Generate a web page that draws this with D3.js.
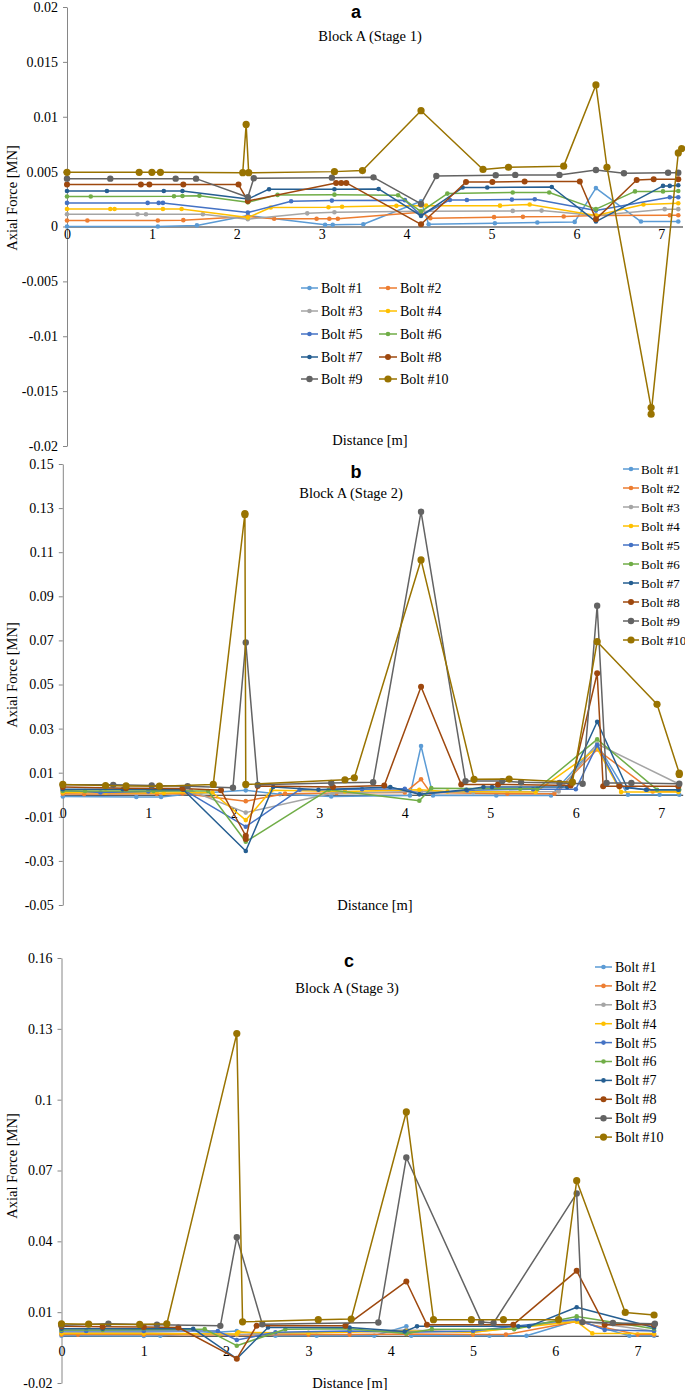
<!DOCTYPE html>
<html><head><meta charset="utf-8">
<script src="https://cdn.jsdelivr.net/npm/d3@7/dist/d3.min.js"></script>
<style>
body{margin:0;background:#fff;}
</style></head>
<body><svg id="c" width="685" height="1390"></svg>
<script>
const SERIF = "'Liberation Serif','Times New Roman',serif";
const SANS = "'Liberation Sans',Arial,sans-serif";
const bolts = ["Bolt #1","Bolt #2","Bolt #3","Bolt #4","Bolt #5","Bolt #6","Bolt #7","Bolt #8","Bolt #9","Bolt #10"];
const colors = ["#5B9BD5","#ED7D31","#A5A5A5","#FFC000","#4472C4","#70AD47","#255E91","#9E480E","#636363","#997300"];
const xTicks = [0,1,2,3,4,5,6,7];
const yTicksA = [0.02,0.015,0.01,0.005,0,-0.005,-0.01,-0.015,-0.02];
const yLabelsA = ["0.02","0.015","0.01","0.005","0","-0.005","-0.01","-0.015","-0.02"];
const yTicksB = [0.15,0.13,0.11,0.09,0.07,0.05,0.03,0.01,-0.01,-0.03,-0.05];
const yLabelsB = ["0.15","0.13","0.11","0.09","0.07","0.05","0.03","0.01","-0.01","-0.03","-0.05"];
const yTicksC = [0.16,0.13,0.1,0.07,0.04,0.01,-0.02];
const yLabelsC = ["0.16","0.13","0.1","0.07","0.04","0.01","-0.02"];

// Stage 1: [distance m, axial force MN] per bolt
const stage1 = [
 [[0,0],[1.07,0],[1.53,0.0001],[2.13,0.001],[3.04,0.00015],[3.13,0.00015],[3.49,0.0002],[4.17,0.0023],[4.26,0.0002],[5.04,0.0003],[5.54,0.00036],[5.98,0.00042],[6.23,0.0035],[6.76,0.00045],[7.2,0.00045]],
 [[0,0.00055],[0.24,0.00055],[1.07,0.00055],[1.37,0.00058],[2.13,0.0009],[2.44,0.0007],[2.94,0.0007],[3.09,0.0007],[3.19,0.0007],[4.17,0.0013],[4.28,0.00076],[5.03,0.00085],[5.37,0.00088],[5.85,0.00091],[6.23,0.001],[7.1,0.00103],[7.2,0.00103]],
 [[0,0.00112],[0.83,0.00112],[0.93,0.00112],[1.6,0.00112],[2.13,0.00067],[2.83,0.0012],[3.15,0.0013],[4.17,0.0014],[5.25,0.00142],[5.59,0.00145],[6.23,0.001],[7.04,0.00158],[7.2,0.00158]],
 [[0,0.0016],[0.51,0.0016],[0.56,0.0016],[1.13,0.0016],[1.35,0.0016],[2.13,0.00082],[2.4,0.00173],[3.08,0.00175],[3.24,0.0018],[3.88,0.00188],[4.17,0.0019],[4.23,0.0019],[5.1,0.0019],[5.45,0.002],[6.23,0.001],[6.79,0.002],[7.2,0.00212]],
 [[0,0.00215],[0.95,0.00215],[1.08,0.00215],[1.13,0.00215],[2.13,0.00127],[2.64,0.0023],[3.12,0.00236],[3.98,0.0024],[4.17,0.001],[4.51,0.00242],[4.71,0.00242],[5.24,0.00245],[5.51,0.00248],[6.23,0.00145],[7.1,0.00267],[7.2,0.00267]],
 [[0,0.00273],[0.28,0.00273],[1.26,0.00275],[1.36,0.00278],[1.56,0.0028],[2.13,0.0022],[2.48,0.00288],[3.15,0.0029],[3.9,0.00285],[4.17,0.00136],[4.48,0.003],[5.25,0.0031],[5.68,0.0031],[6.23,0.00158],[6.69,0.0032],[7.02,0.0032],[7.2,0.00324]],
 [[0,0.00324],[0.47,0.00324],[1.14,0.00324],[1.36,0.00324],[2.13,0.0025],[2.38,0.0034],[3.15,0.0034],[3.67,0.00342],[4.17,0.00097],[4.66,0.00355],[4.95,0.00355],[5.71,0.0036],[6.23,0.00045],[7.02,0.0037],[7.1,0.0037],[7.2,0.00376]],
 [[0,0.00382],[0.87,0.00382],[0.97,0.00382],[1.37,0.00382],[2.02,0.00382],[2.13,0.00233],[3.17,0.00397],[3.23,0.00397],[3.29,0.00397],[4.17,0.0002],[4.7,0.00406],[5.01,0.00406],[5.39,0.0041],[6.04,0.0041],[6.23,0.00067],[6.71,0.00424],[6.91,0.0043],[7.2,0.0043]],
 [[0,0.00436],[0.51,0.00436],[1.28,0.00436],[1.52,0.00436],[2.13,0.00266],[2.2,0.0044],[3.12,0.00445],[3.61,0.00448],[4.17,0.00206],[4.35,0.0046],[5.05,0.00467],[5.28,0.0047],[5.8,0.0047],[6.23,0.00515],[6.56,0.00485],[7.08,0.0049],[7.2,0.0049]],
 [[0,0.00494],[0.85,0.00494],[1.0,0.00494],[1.1,0.00494],[2.07,0.0049],[2.11,0.0093],[2.14,0.0049],[3.15,0.005],[3.48,0.0051],[4.17,0.01055],[4.9,0.0052],[5.2,0.0054],[5.85,0.0055],[6.23,0.0129],[6.36,0.0054],[6.88,-0.0165],[6.88,-0.0171],[7.2,0.0067],[7.24,0.0071]]
];

const stage2 = [
 [[0,-0.0008],[0.86,-0.001],[1.15,-0.001],[1.5,0.0005],[2.14,0.002],[2.54,0.0002],[3.14,-0.0008],[4.06,-0.0003],[4.19,0.0221],[4.33,-0.0003],[5.07,-0.0003],[5.71,-0.0003],[6.25,0.023],[6.61,0],[6.98,0],[7.21,0]],
 [[0,0.0005],[0.25,0.0003],[1.1,0.0004],[1.4,0.0006],[2.14,-0.0029],[2.6,0.0005],[3.2,0.0008],[4.0,0.001],[4.19,0.007],[4.3,0.001],[5.2,0.0005],[5.75,0.0005],[6.25,0.0205],[6.9,0.0015],[7.2,0.0015]],
 [[0,0.0015],[1.0,0.0015],[1.5,0.0018],[2.14,-0.0081],[3.16,0.0008],[4.19,0.0015],[4.8,0.0012],[5.8,0.0015],[6.25,0.023],[7.2,0.005]],
 [[0,0.001],[0.5,0.001],[1.18,0.0008],[1.75,0.001],[2.14,-0.0115],[2.44,0.002],[3.3,0.0015],[4.17,0.0023],[4.5,0.0015],[5.53,0.0012],[6.25,0.021],[6.53,0.0012],[7.2,0.0012]],
 [[0,0.002],[0.44,0.001],[1.0,0.0015],[1.41,0.0023],[2.14,-0.0145],[2.77,0.0023],[3.5,0.0025],[4.0,0.0027],[4.17,0.0002],[4.73,0.002],[5.5,0.0025],[6.0,0.0025],[6.25,0.0225],[6.5,0.004],[6.82,0.0023],[7.2,0.0023]],
 [[0,0.0017],[0.26,0.0017],[1.06,0.0017],[1.7,0.0017],[2.14,-0.0213],[3.11,0.0023],[4.17,-0.0027],[4.31,0.003],[5.35,0.0027],[5.55,0.0027],[6.25,0.0251],[6.95,0.0023],[7.21,0.0023]],
 [[0,0.0025],[0.7,0.0025],[1.41,0.0023],[2.14,-0.0255],[2.46,0.0035],[2.99,0.0023],[3.83,0.0035],[4.17,0.0002],[4.72,0.0023],[4.92,0.0035],[5.02,0.0035],[5.9,0.0035],[6.25,0.0331],[6.6,0.0032],[6.83,0.0023],[7.2,0.0023]],
 [[0,0.0035],[0.74,0.003],[1.4,0.0028],[1.85,0.002],[2.14,-0.0186],[2.14,-0.0201],[2.28,0.004],[3.16,0.0035],[3.76,0.0042],[4.19,0.049],[4.66,0.0047],[5.09,0.0047],[5.94,0.0042],[6.25,0.0551],[6.32,0.0039],[6.51,0.0039],[7.2,0.0039]],
 [[0,0.0045],[0.59,0.0045],[1.04,0.0042],[1.46,0.0039],[1.99,0.0032],[2.14,0.0691],[2.28,0.0045],[3.14,0.0053],[3.63,0.0057],[4.19,0.1284],[4.71,0.0062],[5.14,0.0062],[5.36,0.0057],[5.81,0.0053],[6.08,0.005],[6.25,0.0857],[6.36,0.0053],[6.65,0.0053],[7.21,0.005]],
 [[0,0.0047],[0.5,0.0042],[0.74,0.004],[1.13,0.0039],[1.76,0.0047],[2.13,0.1275],[2.13,0.127],[2.14,0.0047],[3.3,0.0068],[3.41,0.0077],[4.19,0.1065],[4.81,0.007],[5.22,0.0071],[5.96,0.0057],[6.25,0.0694],[6.95,0.041],[7.21,0.0098],[7.21,0.0092]]
];

const stage3 = [
 [[0,0],[1.0,-0.0001],[1.2,0],[2.13,0.002],[2.6,0],[3.1,0],[3.8,0],[4.19,0.004],[4.25,0],[5.2,0],[5.65,0],[6.26,0.0065],[6.9,0],[7.2,0]],
 [[0,0.0005],[0.2,0.0005],[1.0,0.0005],[2.13,0.0003],[3.0,0.0005],[3.5,0.0005],[4.19,0.0008],[5.0,0.0005],[5.4,0.0005],[6.26,0.006],[7.0,0.0005],[7.2,0.0005]],
 [[0,0.0013],[1.0,0.0013],[2.13,0.0005],[3.0,0.0013],[4.19,0.0025],[5.0,0.0015],[6.26,0.0065],[7.2,0.002]],
 [[0,0.001],[1.0,0.001],[2.13,0.0008],[2.15,0.0015],[3.0,0.0012],[4.19,0.002],[5.0,0.0015],[6.26,0.006],[6.45,0.001],[7.2,0.001]],
 [[0,0.002],[0.3,0.002],[1.0,0.002],[1.9,0.002],[2.13,-0.0018],[2.6,0.0015],[3.5,0.002],[4.19,0.0015],[5.0,0.002],[6.26,0.007],[6.6,0.0025],[7.2,0.002]],
 [[0,0.0025],[0.5,0.0025],[1.74,0.0028],[2.13,-0.0042],[2.72,0.0028],[3.5,0.003],[4.19,0.001],[4.5,0.0028],[5.5,0.0028],[6.26,0.0082],[7.2,0.003]],
 [[0,0.003],[0.5,0.003],[1.6,0.003],[2.13,-0.0097],[2.51,0.0035],[3.5,0.0035],[4.17,0.0018],[4.32,0.004],[5.55,0.004],[5.68,0.004],[6.26,0.0121],[7.2,0.0035]],
 [[0,0.004],[0.5,0.0038],[1.0,0.0037],[1.42,0.0035],[2.13,-0.0097],[2.37,0.0042],[3.45,0.0042],[4.19,0.023],[4.44,0.0047],[5.49,0.0047],[6.26,0.0275],[6.6,0.0047],[7.2,0.0047]],
 [[0,0.0045],[0.57,0.0051],[1.16,0.0047],[1.93,0.0042],[2.13,0.0417],[2.44,0.0049],[3.85,0.0056],[4.19,0.0755],[5.1,0.0058],[5.25,0.0054],[6.26,0.0603],[6.33,0.0058],[6.7,0.0054],[7.21,0.0051]],
 [[0,0.0051],[0.33,0.0049],[0.95,0.0048],[1.28,0.0051],[2.13,0.128],[2.2,0.0059],[3.12,0.0068],[3.52,0.0071],[4.19,0.0948],[4.52,0.0068],[4.98,0.0068],[5.37,0.0068],[6.04,0.0068],[6.26,0.0657],[6.85,0.0099],[7.2,0.0088]]
];

const markerR = [2.3,2.3,2.3,2.3,2.3,2.3,2.3,3,3.2,3.6];

const panels = [
 {data:stage1, letter:"a", title:"Block A (Stage 1)", yDom:[-0.02,0.02], yRange:[446,7], xRange:[67,67+7.25*84.9], yTicks:yTicksA, yLabels:yLabelsA,
  letterPos:[356,18], titlePos:[370,41], distPos:[370,445], ylabPos:[12,198], xPad:3, legend:"two", lfs:14},
 {data:stage2, letter:"b", title:"Block A (Stage 2)", yDom:[-0.05,0.15], yRange:[905,464], xRange:[62.8,62.8+7.25*85.5], yTicks:yTicksB, yLabels:yLabelsB,
  letterPos:[356,478], titlePos:[351,498], distPos:[375,910], ylabPos:[12,675], xPad:13, legend:{x1:623,x2:639,tx:641,y0:469,dy:19}, lfs:13},
 {data:stage3, letter:"c", title:"Block A (Stage 3)", yDom:[-0.02,0.16], yRange:[1383,958], xRange:[61.5,61.5+7.25*82.3], yTicks:yTicksC, yLabels:yLabelsC,
  letterPos:[349,967], titlePos:[347,993], distPos:[350,1388], ylabPos:[12,1166], xPad:10, legend:{x1:595,x2:612,tx:615,y0:967,dy:18.9}, lfs:14}
];

const svg = d3.select("#c");

panels.forEach(p => {
  const g = svg.append("g");
  const x = d3.scaleLinear().domain([0,7.25]).range(p.xRange);
  const y = d3.scaleLinear().domain(p.yDom).range(p.yRange);

  // y axis
  const ya = g.append("g").attr("transform",`translate(${p.xRange[0]},0)`)
    .call(d3.axisLeft(y).tickValues(p.yTicks).tickSize(4).tickSizeOuter(0).tickPadding(5)
      .tickFormat((d,i)=>p.yLabels[i]));
  ya.select(".domain").attr("stroke","#868686");
  ya.selectAll(".tick line").attr("stroke","#868686");
  ya.selectAll("text").style("font-size","14px").style("font-family",SERIF).attr("fill","#000");

  // x axis at zero
  const xa = g.append("g").attr("transform",`translate(0,${y(0)})`)
    .call(d3.axisBottom(x).tickValues(xTicks).tickSize(0).tickSizeOuter(0).tickPadding(p.xPad).tickFormat(d3.format("d")));
  xa.select(".domain").attr("stroke","#262626").attr("stroke-width",1.1);
  xa.selectAll("text").style("font-size","14px").style("font-family",SERIF).attr("fill","#000");

  // series
  const line = d3.line().x(d=>x(d[0])).y(d=>y(d[1]));
  p.data.forEach((s,i)=>{
    g.append("path").datum(s).attr("d",line).attr("fill","none")
      .attr("stroke",colors[i]).attr("stroke-width",1.5).attr("stroke-linejoin","round");
    g.selectAll(null).data(s).enter().append("circle")
      .attr("cx",d=>x(d[0])).attr("cy",d=>y(d[1])).attr("r",markerR[i]).attr("fill",colors[i]);
  });

  // titles
  g.append("text").attr("x",p.letterPos[0]).attr("y",p.letterPos[1]).attr("text-anchor","middle")
    .style("font-family",SANS).style("font-weight","bold").style("font-size","18px").text(p.letter);
  g.append("text").attr("x",p.titlePos[0]).attr("y",p.titlePos[1]).attr("text-anchor","middle")
    .style("font-family",SERIF).style("font-size","14.5px").text(p.title);
  g.append("text").attr("x",p.distPos[0]).attr("y",p.distPos[1]).attr("text-anchor","middle")
    .style("font-family",SERIF).style("font-size","14.5px").text("Distance [m]");
  g.append("text").attr("transform",`translate(${p.ylabPos[0]},${p.ylabPos[1]}) rotate(-90)`)
    .attr("text-anchor","middle").attr("dy","0.35em")
    .style("font-family",SERIF).style("font-size","14.5px").text("Axial Force [MN]");

  // legend
  let items;
  if (p.legend === "two") {
    const cols = [{x1:301,x2:318,tx:321},{x1:379,x2:397,tx:400}];
    const rows = [288,311,334,357,379];
    items = bolts.map((b,i)=>({b,i,x1:cols[i%2].x1,x2:cols[i%2].x2,tx:cols[i%2].tx,yy:rows[Math.floor(i/2)]}));
  } else {
    const L = p.legend;
    items = bolts.map((b,i)=>({b,i,x1:L.x1,x2:L.x2,tx:L.tx,yy:L.y0+i*L.dy}));
  }
  const lg = g.append("g");
  items.forEach(it=>{
    lg.append("line").attr("x1",it.x1).attr("x2",it.x2).attr("y1",it.yy).attr("y2",it.yy)
      .attr("stroke",colors[it.i]).attr("stroke-width",1.5);
    lg.append("circle").attr("cx",(it.x1+it.x2)/2).attr("cy",it.yy).attr("r",markerR[it.i]).attr("fill",colors[it.i]);
    lg.append("text").attr("x",it.tx).attr("y",it.yy).attr("dy","0.35em")
      .style("font-family",SERIF).style("font-size",p.lfs+"px").text(it.b);
  });
});
</script></body></html>
